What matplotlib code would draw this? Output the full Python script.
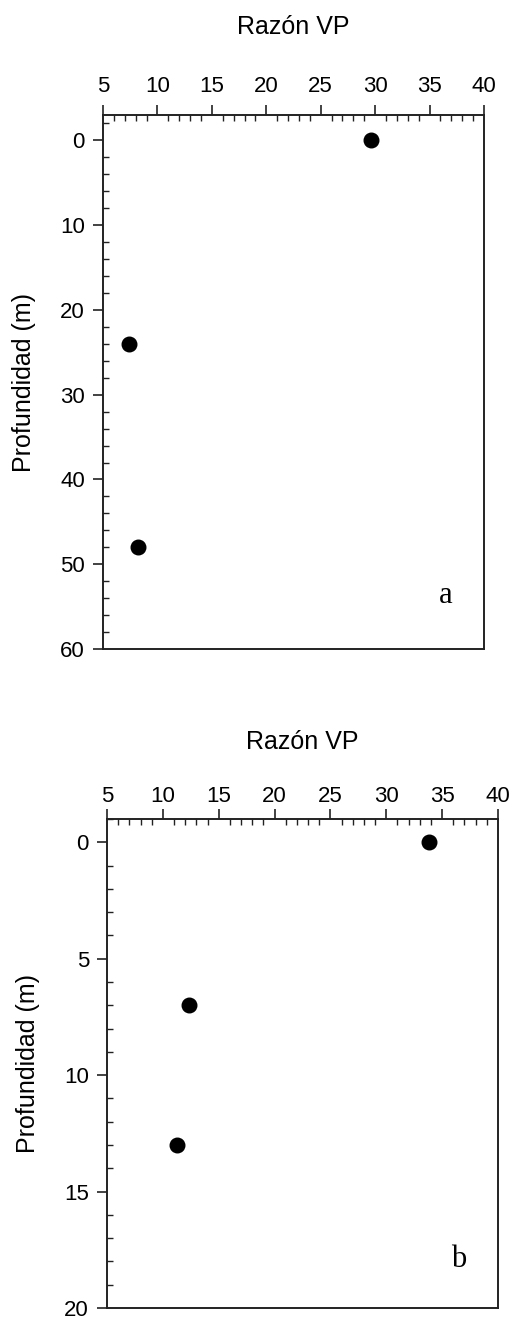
import matplotlib
matplotlib.use("Agg")
import matplotlib.pyplot as plt
from matplotlib.ticker import MultipleLocator

# panel a
vp_a = [29.6, 7.4, 8.2]
depth_a = [0, 24, 48]
# panel b
vp_b = [33.8, 12.3, 11.3]
depth_b = [0, 7, 13]

x_label = "Razón VP"
y_label = "Profundidad (m)"

plt.rcParams['font.family'] = ['Liberation Sans', 'DejaVu Sans']

W, H = 514, 1320
fig = plt.figure(figsize=(W / 100, H / 100), dpi=100)


def px_axes(left, top, right, bottom):
    return fig.add_axes([left / W, 1 - bottom / H, (right - left) / W, (bottom - top) / H])


def style(ax, ylim, ymajor, yminor, letter, xpad, titlepad):
    ax.set_xlim(5, 40)
    ax.set_ylim(*ylim)
    ax.xaxis.tick_top()
    ax.xaxis.set_label_position('top')
    ax.xaxis.set_major_locator(MultipleLocator(5))
    ax.xaxis.set_minor_locator(MultipleLocator(1))
    ax.yaxis.set_major_locator(MultipleLocator(ymajor))
    ax.yaxis.set_minor_locator(MultipleLocator(yminor))
    ax.tick_params(which='major', direction='out', length=7, width=1.2, labelsize=16, pad=6, color='#222222')
    ax.tick_params(axis='x', which='major', pad=xpad)
    ax.tick_params(which='minor', direction='in', length=4, width=1.0, color='#222222')
    for s in ax.spines.values():
        s.set_linewidth(1.4)
        s.set_color('#222222')
    ax.set_xlabel(x_label, fontsize=18, labelpad=titlepad)
    ax.set_ylabel(y_label, fontsize=18, labelpad=17)
    ax.text(0.9, 0.1, letter, transform=ax.transAxes, fontsize=22,
            family='Liberation Serif', ha='center', va='center')


ax1 = px_axes(103, 115, 484, 649)
ax1.scatter(vp_a, depth_a, s=110, color='black', zorder=3, clip_on=False)
style(ax1, (60, -3), 10, 2, 'a', 6, 30)

ax2 = px_axes(107, 819, 498, 1308)
ax2.scatter(vp_b, depth_b, s=110, color='black', zorder=3, clip_on=False)
style(ax2, (20, -1), 5, 1, 'b', 2, 26)

fig.savefig("out.png", dpi=100)
